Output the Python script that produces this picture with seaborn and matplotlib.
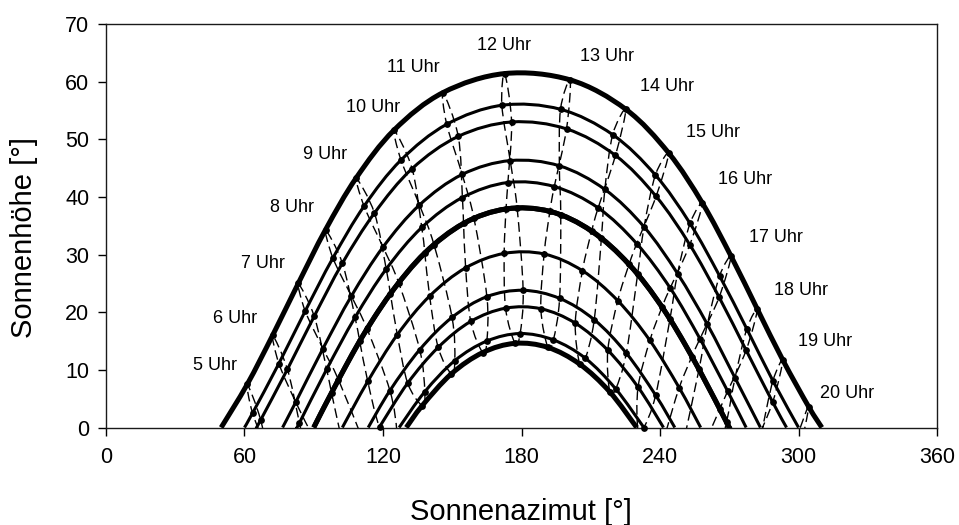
import numpy as np
import pandas as pd
import matplotlib
matplotlib.use("Agg")
import matplotlib.pyplot as plt
from matplotlib.path import Path
from matplotlib.patches import PathPatch
import seaborn as sns

# Sun path diagram: hourly sun positions (CET) for selected days.
# Azimuth and elevation in degrees; a few points just below the horizon
# are kept so the hour lines run down to the axis.
days = ["21.12.", "1.2.", "1.3.", "21.3.", "1.4.", "1.5.",
        "21.6.", "1.8.", "1.9.", "23.9.", "1.11.", "1.12."]
thick_days = ["21.12.", "21.3.", "21.6.", "23.9."]

hours_dec21 = [8, 9, 10, 11, 12, 13, 14, 15, 16]
az_dec21 = [125.1, 137.0, 149.6, 163.2, 177.2, 191.4, 205.2, 218.2, 230.4]
el_dec21 = [-3.2, 3.8, 9.3, 13.0, 14.6, 13.9, 11.0, 6.2, -0.3]
rise_set_dec21 = [130.1, 229.9]

hours_feb1 = [8, 9, 10, 11, 12, 13, 14, 15, 16, 17]
az_feb1 = [118.5, 130.7, 143.9, 158.0, 173.1, 188.4, 203.3, 217.4, 230.5, 242.6]
el_feb1 = [0.1, 7.7, 13.9, 18.4, 20.7, 20.6, 18.1, 13.4, 7.0, -0.7]
rise_set_feb1 = [118.5, 241.5]

hours_mar1 = [7, 8, 9, 10, 11, 12, 13, 14, 15, 16, 17, 18]
az_mar1 = [101.4, 113.4, 126.2, 140.2, 155.8, 172.5, 189.8, 206.4, 221.7, 235.6, 248.3, 260.2]
el_mar1 = [-0.8, 8.0, 16.1, 22.8, 27.7, 30.2, 30.1, 27.2, 22.0, 15.1, 6.9, -2.0]
rise_set_mar1 = [102.4, 257.6]

hours_mar21 = [6, 7, 8, 9, 10, 11, 12, 13, 14, 15, 16, 17, 18]
az_mar21 = [85.9, 97.7, 109.9, 123.2, 138.1, 154.9, 173.3, 192.3, 210.4, 226.6, 240.9, 253.8, 265.9]
el_mar21 = [-3.2, 6.0, 15.0, 23.2, 30.3, 35.4, 37.9, 37.5, 34.1, 28.3, 20.9, 12.3, 3.2]
rise_set_mar21 = [90.0, 270.0]

hours_apr1 = [5, 6, 7, 8, 9, 10, 11, 12, 13, 14, 15, 16, 17, 18, 19]
az_apr1 = [71.8, 83.8, 95.6, 107.9, 121.4, 136.8, 154.4, 174.1, 194.2, 213.2, 229.9, 244.4, 257.3, 269.3, 281.1]
el_apr1 = [-8.2, 0.8, 10.1, 19.1, 27.5, 34.7, 39.9, 42.5, 41.8, 38.1, 31.9, 24.2, 15.4, 6.3, -3.0]
rise_set_apr1 = [82.7, 277.3]

hours_may1 = [5, 6, 7, 8, 9, 10, 11, 12, 13, 14, 15, 16, 17, 18, 19, 20]
az_may1 = [67.0, 78.6, 90.2, 102.4, 116.3, 132.6, 152.6, 175.7, 199.5, 220.7, 238.3, 252.9, 265.6, 277.3, 288.8, 300.7]
el_may1 = [1.3, 10.1, 19.3, 28.5, 37.2, 44.9, 50.5, 53.0, 51.8, 47.2, 40.1, 31.7, 22.6, 13.4, 4.4, -4.0]
rise_set_may1 = [65.2, 294.8]

hours_jun21 = [5, 6, 7, 8, 9, 10, 11, 12, 13, 14, 15, 16, 17, 18, 19, 20]
az_jun21 = [61.2, 72.2, 83.3, 95.1, 108.4, 124.8, 146.0, 172.7, 201.1, 225.2, 243.8, 258.4, 270.8, 282.2, 293.2, 304.4]
el_jun21 = [7.5, 16.0, 25.0, 34.3, 43.3, 51.6, 58.1, 61.4, 60.3, 55.2, 47.6, 38.9, 29.7, 20.5, 11.7, 3.6]
rise_set_jun21 = [49.9, 310.1]

hours_aug1 = [5, 6, 7, 8, 9, 10, 11, 12, 13, 14, 15, 16, 17, 18, 19, 20]
az_aug1 = [63.5, 74.9, 86.3, 98.3, 111.8, 127.8, 147.6, 171.5, 196.9, 219.5, 238.0, 253.0, 265.8, 277.6, 288.9, 300.5]
el_aug1 = [2.5, 11.1, 20.2, 29.4, 38.4, 46.4, 52.6, 55.9, 55.2, 50.8, 43.8, 35.4, 26.3, 17.1, 8.1, -0.3]
rise_set_aug1 = [60.0, 300.0]

hours_sep1 = [5, 6, 7, 8, 9, 10, 11, 12, 13, 14, 15, 16, 17, 18, 19]
az_sep1 = [70.4, 82.2, 94.0, 106.3, 120.0, 135.8, 154.3, 175.1, 196.4, 216.1, 233.1, 247.6, 260.5, 272.5, 284.2]
el_sep1 = [-4.6, 4.4, 13.7, 22.8, 31.3, 38.6, 43.9, 46.3, 45.4, 41.3, 34.8, 26.7, 17.9, 8.6, -0.5]
rise_set_sep1 = [76.5, 283.5]

hours_sep23 = [6, 7, 8, 9, 10, 11, 12, 13, 14, 15, 16, 17, 18]
az_sep23 = [88.8, 100.7, 113.1, 126.8, 142.1, 159.4, 178.1, 197.0, 214.6, 230.3, 244.3, 256.9, 268.8]
el_sep23 = [-0.9, 8.3, 17.1, 25.1, 31.7, 36.3, 38.1, 36.9, 32.8, 26.6, 18.8, 10.1, 0.9]
rise_set_sep23 = [90.0, 270.0]

hours_nov1 = [7, 8, 9, 10, 11, 12, 13, 14, 15, 16, 17, 18]
az_nov1 = [111.0, 123.0, 135.9, 149.9, 165.0, 180.7, 196.5, 211.5, 225.4, 238.1, 250.1, 261.6]
el_nov1 = [-1.9, 6.4, 13.5, 19.1, 22.7, 23.8, 22.4, 18.7, 12.9, 5.6, -2.7, -11.6]
rise_set_nov1 = [113.6, 246.4]

hours_dec1 = [8, 9, 10, 11, 12, 13, 14, 15, 16]
az_dec1 = [126.0, 138.1, 151.1, 165.0, 179.4, 193.8, 207.7, 220.8, 233.0]
el_dec1 = [-0.7, 6.2, 11.6, 15.0, 16.3, 15.2, 12.0, 6.7, 0.0]
rise_set_dec1 = [127.0, 233.0]

hour_labels = ["5 Uhr", "6 Uhr", "7 Uhr", "8 Uhr", "9 Uhr", "10 Uhr", "11 Uhr", "12 Uhr",
               "13 Uhr", "14 Uhr", "15 Uhr", "16 Uhr", "17 Uhr", "18 Uhr", "19 Uhr", "20 Uhr"]
label_hours = list(range(5, 21))

# placement of the hour labels (azimuth, elevation of the text centre)
label_az = [47.1, 55.9, 67.8, 80.4, 94.8, 115.9, 133.1, 172.4,
            217.2, 243.2, 263.1, 276.7, 290.1, 300.9, 311.5, 320.9]
label_el = [10.7, 18.9, 28.4, 38.1, 47.4, 55.6, 62.5, 66.2,
            64.3, 59.1, 51.2, 43.1, 33.0, 23.7, 15.0, 5.9]

series = {
    "21.12.": (hours_dec21, az_dec21, el_dec21, rise_set_dec21),
    "1.2.": (hours_feb1, az_feb1, el_feb1, rise_set_feb1),
    "1.3.": (hours_mar1, az_mar1, el_mar1, rise_set_mar1),
    "21.3.": (hours_mar21, az_mar21, el_mar21, rise_set_mar21),
    "1.4.": (hours_apr1, az_apr1, el_apr1, rise_set_apr1),
    "1.5.": (hours_may1, az_may1, el_may1, rise_set_may1),
    "21.6.": (hours_jun21, az_jun21, el_jun21, rise_set_jun21),
    "1.8.": (hours_aug1, az_aug1, el_aug1, rise_set_aug1),
    "1.9.": (hours_sep1, az_sep1, el_sep1, rise_set_sep1),
    "23.9.": (hours_sep23, az_sep23, el_sep23, rise_set_sep23),
    "1.11.": (hours_nov1, az_nov1, el_nov1, rise_set_nov1),
    "1.12.": (hours_dec1, az_dec1, el_dec1, rise_set_dec1),
}

# long table of all hourly positions
rows = []
for d in days:
    hrs, az, el, _ = series[d]
    for h, a, e in zip(hrs, az, el):
        rows.append({"day": d, "hour": h, "az": a, "el": e})
df = pd.DataFrame(rows)

sns.set_theme(style="ticks")
plt.rcParams["font.family"] = ["Liberation Sans", "DejaVu Sans"]
plt.rcParams["lines.scale_dashes"] = False

fig = plt.figure(figsize=(9.59, 5.25), dpi=100)
ax = fig.add_axes([0.1105, 0.1857, 0.8666, 0.7686])

visible = df[df["el"] >= 0]
sc = sns.scatterplot(data=visible, x="az", y="el", color="black", s=24,
                     linewidth=0, legend=False, ax=ax, zorder=5)
for coll in ax.collections:
    coll.set_clip_on(False)

ax.set_xlim(0, 360)
ax.set_ylim(0, 70)
ax.set_xticks(np.arange(0, 361, 60))
ax.set_yticks(np.arange(0, 71, 10))
ax.set_xlabel("")
ax.set_ylabel("")
ax.tick_params(axis="both", direction="out", length=6, width=1.0, color="black",
               labelsize=15.5, labelcolor="black")
ax.tick_params(axis="x", pad=8)
ax.tick_params(axis="y", pad=6)
for sp in ax.spines.values():
    sp.set_visible(True)
    sp.set_color("#1a1a1a")
    sp.set_linewidth(1.0)
ax.grid(False)


def smooth_path(xs, ys, closed=False):
    """Cubic Bezier through the points (tangents as in a spreadsheet's smoothed line)."""
    p = ax.transData.transform(np.column_stack([xs, ys]))
    n = len(p)
    verts = [p[0]]
    codes = [Path.MOVETO]
    nseg = n if closed else n - 1
    for i in range(nseg):
        i0 = (i - 1) % n if closed else max(i - 1, 0)
        i2 = (i + 1) % n
        i3 = (i + 2) % n if closed else min(i + 2, n - 1)
        p0, p1, p2, p3 = p[i0], p[i], p[i2], p[i3]
        verts += [p1 + (p2 - p0) / 6.0, p2 - (p3 - p1) / 6.0, p2]
        codes += [Path.CURVE4] * 3
    verts = ax.transData.inverted().transform(np.array(verts))
    return Path(verts, codes)


# daily sun paths: sunrise, visible hourly points, sunset
for d in days:
    hrs, az, el, rs = series[d]
    pts = [(a, e) for a, e in zip(az, el) if e >= 0]
    xs = [a for a, _ in pts]
    ys = [e for _, e in pts]
    if ys[0] > 0.5:
        xs, ys = [rs[0]] + xs, [0.0] + ys
    if ys[-1] > 0.5:
        xs, ys = xs + [rs[1]], ys + [0.0]
    lw = 3.6 if d in thick_days else 2.2
    ax.add_patch(PathPatch(smooth_path(xs, ys), fill=False, edgecolor="black",
                           linewidth=lw, capstyle="butt", joinstyle="round", zorder=3))

# hour lines through the same clock time over the year
for h in label_hours:
    sub = df[df["hour"] == h]
    sub = sub.set_index("day").reindex([d for d in days if d in set(sub["day"])])
    closed = len(sub) == len(days)
    ax.add_patch(PathPatch(smooth_path(sub["az"].values, sub["el"].values, closed=closed),
                           fill=False, edgecolor="black", linewidth=1.0,
                           linestyle=(0, (7, 3.5)), zorder=2))

for txt, x, y in zip(hour_labels, label_az, label_el):
    ax.text(x, y, txt, ha="center", va="center", fontsize=13, color="black", zorder=6)

fig.text(521 / 959, 1 - 512 / 525, "Sonnenazimut [°]", ha="center", va="center",
         fontsize=21, color="black")
fig.text(24 / 959, 1 - 238 / 525, "Sonnenhöhe [°]", ha="center", va="center",
         rotation=90, fontsize=21, color="black")

fig.savefig("out.png", dpi=100, facecolor="white")
